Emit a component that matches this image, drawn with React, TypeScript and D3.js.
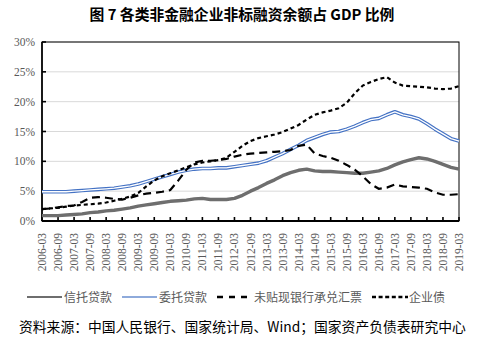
import React from "react";
import * as d3 from "d3";

const quarters: string[] = (() => {
  const out: string[] = [];
  for (let y = 2006; y <= 2019; y++) {
    for (const m of ["03", "06", "09", "12"]) {
      if (y === 2019 && m !== "03") continue;
      out.push(`${y}-${m}`);
    }
  }
  return out;
})();

const tickLabels = quarters.filter((_, i) => i % 2 === 0);
const yTicks = [0, 5, 10, 15, 20, 25, 30];

const trustLoans = [
  0.9, 0.9, 0.9, 1.0, 1.1, 1.2, 1.4, 1.5, 1.7, 1.8, 2.0, 2.2, 2.5, 2.7, 2.9, 3.1,
  3.3, 3.4, 3.5, 3.7, 3.8, 3.6, 3.6, 3.6, 3.8, 4.3, 5.0, 5.6, 6.3, 6.9, 7.6, 8.1,
  8.5, 8.7, 8.4, 8.3, 8.3, 8.2, 8.1, 8.0, 8.0, 8.2, 8.4, 8.8, 9.4, 9.9, 10.3, 10.6,
  10.4, 10.0, 9.5, 9.0, 8.7,
];
const entrustedLoans = [
  4.9, 4.9, 4.9, 4.9, 5.0, 5.1, 5.2, 5.3, 5.4, 5.5, 5.7, 5.9, 6.2, 6.6, 7.0, 7.4,
  7.8, 8.2, 8.5, 8.7, 8.8, 8.8, 8.9, 8.9, 9.1, 9.3, 9.5, 9.7, 10.1, 10.7, 11.3, 12.0,
  12.7, 13.5, 14.0, 14.5, 14.9, 15.0, 15.4, 15.9, 16.5, 17.0, 17.2, 17.8, 18.3, 17.8,
  17.5, 17.1, 16.3, 15.4, 14.6, 13.8, 13.4,
];
const bankAcceptance = [
  2.0, 2.1, 2.3, 2.5, 2.6, 3.2, 3.9, 4.0, 3.9, 3.7, 3.6, 3.9, 4.3, 4.6, 4.7, 4.9,
  5.2, 6.8, 8.6, 9.8, 10.1, 10.1, 10.2, 10.4, 10.8, 11.1, 11.3, 11.4, 11.5, 11.6, 11.7, 11.9,
  12.6, 12.8, 11.3, 10.9, 10.6, 10.1, 9.4, 8.6, 7.5, 6.2, 5.4, 5.6, 6.1, 5.8, 5.7, 5.6,
  5.4, 4.8, 4.4, 4.4, 4.5,
];
const corporateBonds = [
  2.0, 2.1, 2.2, 2.4, 2.6, 2.7, 2.8, 2.9, 3.1, 3.4, 3.7, 4.1, 4.7, 5.8, 6.8, 7.5,
  8.0, 8.5, 9.0, 9.5, 9.8, 10.0, 10.2, 10.6, 11.6, 12.6, 13.4, 13.9, 14.2, 14.5, 14.9, 15.5,
  16.1, 17.0, 17.8, 18.2, 18.5, 18.9, 19.8, 21.4, 22.7, 23.3, 23.8, 24.1, 23.2, 22.7,
  22.6, 22.5, 22.4, 22.2, 22.1, 22.2, 22.6,
];

const seriesNames = ["信托贷款", "委托贷款", "未贴现银行承兑汇票", "企业债"];
const title = "图 7 各类非金融企业非标融资余额占 GDP 比例";
const source = "资料来源：中国人民银行、国家统计局、Wind；国家资产负债表研究中心";

const W = 486;
const H = 357;
const L = 42;
const R = 459;
const T = 42;
const B = 221;

export default function App() {
  const x = d3.scaleLinear().domain([0, quarters.length - 1]).range([L, R]);
  const y = d3.scaleLinear().domain([0, 30]).range([B, T]);
  const line = d3
    .line<number>()
    .x((_, i) => x(i))
    .y((d) => y(d))
    .curve(d3.curveLinear);

  const serif = "'Liberation Serif', 'Times New Roman', serif";
  const cjk = "'Noto Sans CJK SC', sans-serif";
  const gray = "#595959";

  const legendY = 297;
  const legend = [
    { x1: 27, x2: 62, tx: 64, name: seriesNames[0] },
    { x1: 122, x2: 157, tx: 159, name: seriesNames[1] },
    { x1: 217, x2: 253, tx: 254, name: seriesNames[2] },
    { x1: 372, x2: 408, tx: 409, name: seriesNames[3] },
  ];

  return (
    <svg
      width={W}
      height={H}
      style={{ position: "fixed", left: 0, top: 0, background: "#fff" }}
    >
      <rect x={0} y={0} width={W} height={H} fill="#fff" />
      <text
        x={242}
        y={20}
        textAnchor="middle"
        fontFamily={cjk}
        fontWeight="bold"
        fontSize={14.8}
        fill="#000"
      >
        {title}
      </text>

      {yTicks.map((t) => (
        <line key={t} x1={L} x2={R} y1={y(t)} y2={y(t)} stroke="#d9d9d9" strokeWidth={1} />
      ))}
      {yTicks.map((t) => (
        <text
          key={"l" + t}
          x={35}
          y={y(t) + 4}
          textAnchor="end"
          fontFamily={serif}
          fontSize={11.5}
          fill={gray}
        >
          {t + "%"}
        </text>
      ))}

      <rect x={L} y={T} width={R - L} height={B - T} fill="none" stroke="#000" strokeWidth={1} />
      <line x1={L} x2={L} y1={T} y2={B} stroke="#000" strokeWidth={1.6} />
      <line x1={L} x2={R} y1={B} y2={B} stroke="#000" strokeWidth={2} />
      {yTicks.map((t) => (
        <line key={"yt" + t} x1={L} x2={L + 4} y1={y(t)} y2={y(t)} stroke="#000" strokeWidth={1.6} />
      ))}
      {tickLabels.map((_, k) => (
        <line
          key={"xt" + k}
          x1={x(k * 2)}
          x2={x(k * 2)}
          y1={B}
          y2={B - 4}
          stroke="#000"
          strokeWidth={1.6}
        />
      ))}
      {tickLabels.map((lab, k) => (
        <text
          key={"xl" + k}
          transform={`translate(${x(k * 2) + 4},${233}) rotate(-90)`}
          textAnchor="end"
          fontFamily={serif}
          fontSize={11.5}
          fill={gray}
        >
          {lab}
        </text>
      ))}

      <path d={line(trustLoans) || ""} fill="none" stroke="#6e6e6e" strokeWidth={3.4} strokeLinejoin="round" />
      <path d={line(entrustedLoans) || ""} fill="none" stroke="#4472c4" strokeWidth={3.6} strokeLinejoin="round" />
      <path d={line(entrustedLoans) || ""} fill="none" stroke="#ffffff" strokeWidth={1.3} strokeLinejoin="round" />
      <path
        d={line(bankAcceptance) || ""}
        fill="none"
        stroke="#000"
        strokeWidth={2.2}
        strokeDasharray="8,5"
      />
      <path
        d={line(corporateBonds) || ""}
        fill="none"
        stroke="#000"
        strokeWidth={2.2}
        strokeDasharray="4,3"
      />

      <line x1={legend[0].x1} x2={legend[0].x2} y1={legendY} y2={legendY} stroke="#6e6e6e" strokeWidth={2} />
      <line x1={legend[1].x1} x2={legend[1].x2} y1={legendY} y2={legendY} stroke="#8eaadb" strokeWidth={2} />
      <line
        x1={legend[2].x1}
        x2={legend[2].x2}
        y1={legendY}
        y2={legendY}
        stroke="#000"
        strokeWidth={2.4}
        strokeDasharray="6,6"
      />
      <line
        x1={legend[3].x1}
        x2={legend[3].x2}
        y1={legendY}
        y2={legendY}
        stroke="#000"
        strokeWidth={2.4}
        strokeDasharray="4,2.6"
      />
      {legend.map((l) => (
        <text key={l.name} x={l.tx} y={legendY + 4.5} fontFamily={cjk} fontSize={12} fill={gray}>
          {l.name}
        </text>
      ))}

      <text x={19} y={332} fontFamily={cjk} fontSize={13.8} fill="#000">
        {source}
      </text>
    </svg>
  );
}
